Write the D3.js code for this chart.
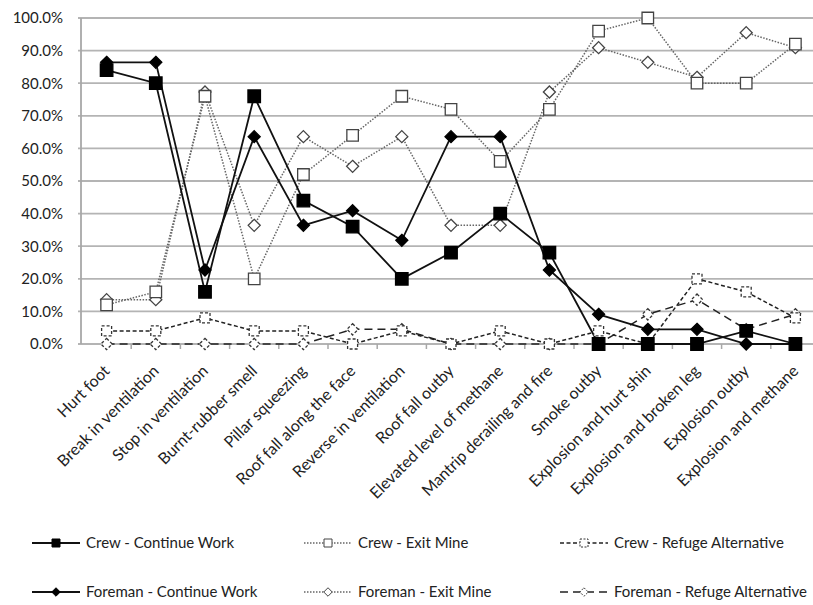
<!DOCTYPE html>
<html>
<head>
<meta charset="utf-8">
<script src="https://cdn.jsdelivr.net/npm/d3@7"></script>
<style>
  body { margin: 0; background: #fff; }
  svg text { font-family: Lato, "Open Sans", sans-serif; fill: #222; }
</style>
</head>
<body>
<div id="chart"></div>
<script>
const categories = [
  'Hurt foot', 'Break in ventilation', 'Stop in ventilation', 'Burnt-rubber smell',
  'Pillar squeezing', 'Roof fall along the face', 'Reverse in ventilation', 'Roof fall outby',
  'Elevated level of methane', 'Mantrip derailing and fire', 'Smoke outby',
  'Explosion and hurt shin', 'Explosion and broken leg', 'Explosion outby', 'Explosion and methane'
];

// percentages
const crewContinue    = [84, 80, 16, 76, 44, 36, 20, 28, 40, 28, 0, 0, 0, 4, 0];
const crewExit        = [12, 16, 76, 20, 52, 64, 76, 72, 56, 72, 96, 100, 80, 80, 92];
const crewRefuge      = [4, 4, 8, 4, 4, 0, 4, 0, 4, 0, 4, 0, 20, 16, 8];
const foremanContinue = [86.4, 86.4, 22.7, 63.6, 36.4, 40.9, 31.8, 63.6, 63.6, 22.7, 9.1, 4.5, 4.5, 0, 0];
const foremanExit     = [13.6, 13.6, 77.3, 36.4, 63.6, 54.5, 63.6, 36.4, 36.4, 77.3, 90.9, 86.4, 81.8, 95.5, 90.9];
const foremanRefuge   = [0, 0, 0, 0, 0, 4.5, 4.5, 0, 0, 0, 0, 9.1, 13.6, 4.5, 9.1];

const yTicks = [0, 10, 20, 30, 40, 50, 60, 70, 80, 90, 100];

const series = [
  { name: 'Crew - Continue Work', values: crewContinue, stroke: '#111', width: 1.8, dash: null,
    shape: 'square', size: 12.5, fill: '#000', mStroke: '#000', mDash: null, z: 5 },
  { name: 'Crew - Exit Mine', values: crewExit, stroke: '#666', width: 1.5, dash: '1.5,1.5',
    shape: 'square', size: 11.5, fill: '#fff', mStroke: '#444', mDash: null, z: 3 },
  { name: 'Crew - Refuge Alternative', values: crewRefuge, stroke: '#222', width: 1.5, dash: '4,2.5',
    shape: 'square', size: 10, fill: '#fff', mStroke: '#333', mDash: '3,2', z: 1 },
  { name: 'Foreman - Continue Work', values: foremanContinue, stroke: '#111', width: 1.8, dash: null,
    shape: 'diamond', size: 8.5, fill: '#000', mStroke: '#000', mDash: null, z: 4 },
  { name: 'Foreman - Exit Mine', values: foremanExit, stroke: '#666', width: 1.5, dash: '1.5,1.5',
    shape: 'diamond', size: 8.5, fill: '#fff', mStroke: '#444', mDash: null, z: 2 },
  { name: 'Foreman - Refuge Alternative', values: foremanRefuge, stroke: '#222', width: 1.5, dash: '8,5',
    shape: 'diamond', size: 8, fill: '#fff', mStroke: '#333', mDash: '3,2', z: 0 }
];

const width = 813, height = 605;
const plot = { left: 82, right: 820, top: 18, bottom: 344 };

const svg = d3.select('#chart').append('svg')
  .attr('width', width)
  .attr('height', height);

const x = d3.scalePoint()
  .domain(categories)
  .range([plot.left, plot.right])
  .padding(0.5);

const band = d3.scaleBand()
  .domain(categories)
  .range([plot.left, plot.right]);

const y = d3.scaleLinear()
  .domain([0, 100])
  .range([plot.bottom, plot.top]);

// gridlines
svg.append('g')
  .selectAll('line')
  .data(yTicks)
  .enter().append('line')
  .attr('x1', plot.left - 4)
  .attr('x2', plot.right)
  .attr('y1', d => y(d))
  .attr('y2', d => y(d))
  .attr('stroke', '#b4b4b4')
  .attr('stroke-width', 1.8);

// y axis line
svg.append('line')
  .attr('x1', plot.left - 1).attr('x2', plot.left - 1)
  .attr('y1', plot.top).attr('y2', plot.bottom)
  .attr('stroke', '#a8a8a8')
  .attr('stroke-width', 1.8);

// x tick marks at category boundaries
svg.append('g')
  .selectAll('line')
  .data(categories.slice(1))
  .enter().append('line')
  .attr('x1', d => band(d))
  .attr('x2', d => band(d))
  .attr('y1', plot.bottom)
  .attr('y2', plot.bottom + 5)
  .attr('stroke', '#a8a8a8')
  .attr('stroke-width', 1.5);

// y labels
svg.append('g')
  .selectAll('text')
  .data(yTicks)
  .enter().append('text')
  .attr('x', 63)
  .attr('y', d => y(d))
  .attr('dy', '0.36em')
  .attr('text-anchor', 'end')
  .style('font-size', '15px')
  .text(d => d.toFixed(1) + '%');

// x labels
svg.append('g')
  .selectAll('text')
  .data(categories)
  .enter().append('text')
  .attr('transform', d => `translate(${x(d)},${plot.bottom + 24}) rotate(-45)`)
  .attr('dy', '0.35em')
  .attr('text-anchor', 'end')
  .style('font-size', '16px')
  .text(d => d);

function markerPath(shape, size) {
  if (shape === 'square') {
    const h = size / 2;
    return `M${-h},${-h}H${h}V${h}H${-h}Z`;
  }
  const r = size / Math.SQRT2;
  return `M0,${-r}L${r},0L0,${r}L${-r},0Z`;
}

const line = d3.line()
  .x((d, i) => x(categories[i]))
  .y(d => y(d));

// lines first, then markers, solid series on top
const drawOrder = series.slice().sort((a, b) => a.z - b.z);
const linesG = svg.append('g');
const marksG = svg.append('g');

drawOrder.forEach(s => {
  linesG.append('path')
    .datum(s.values)
    .attr('d', line)
    .attr('fill', 'none')
    .attr('stroke', s.stroke)
    .attr('stroke-width', s.width)
    .attr('stroke-dasharray', s.dash);

  marksG.append('g')
    .selectAll('path')
    .data(s.values)
    .enter().append('path')
    .attr('transform', (d, i) => `translate(${x(categories[i])},${y(d)})`)
    .attr('d', markerPath(s.shape, s.size))
    .attr('fill', s.fill)
    .attr('stroke', s.mStroke)
    .attr('stroke-width', 1.3)
    .attr('stroke-dasharray', s.mDash);
});

// legend, 3 columns x 2 rows
const legendCols = [32, 304, 560];
const legendRows = [543, 592];
series.forEach((s, i) => {
  const lx = legendCols[i % 3];
  const ly = legendRows[Math.floor(i / 3)];
  const g = svg.append('g').attr('transform', `translate(${lx},${ly})`);
  g.append('line')
    .attr('x1', 0).attr('x2', 48)
    .attr('stroke', s.stroke)
    .attr('stroke-width', s.width)
    .attr('stroke-dasharray', s.dash);
  g.append('path')
    .attr('transform', 'translate(24,0)')
    .attr('d', markerPath(s.shape, s.shape === 'square' ? 8 : 6))
    .attr('fill', s.fill)
    .attr('stroke', s.mStroke)
    .attr('stroke-width', 1)
    .attr('stroke-dasharray', s.mDash ? '2,1.5' : null);
  g.append('text')
    .attr('x', 54)
    .attr('dy', '0.35em')
    .style('font-size', '15px')
    .text(s.name);
});
</script>
</body>
</html>
